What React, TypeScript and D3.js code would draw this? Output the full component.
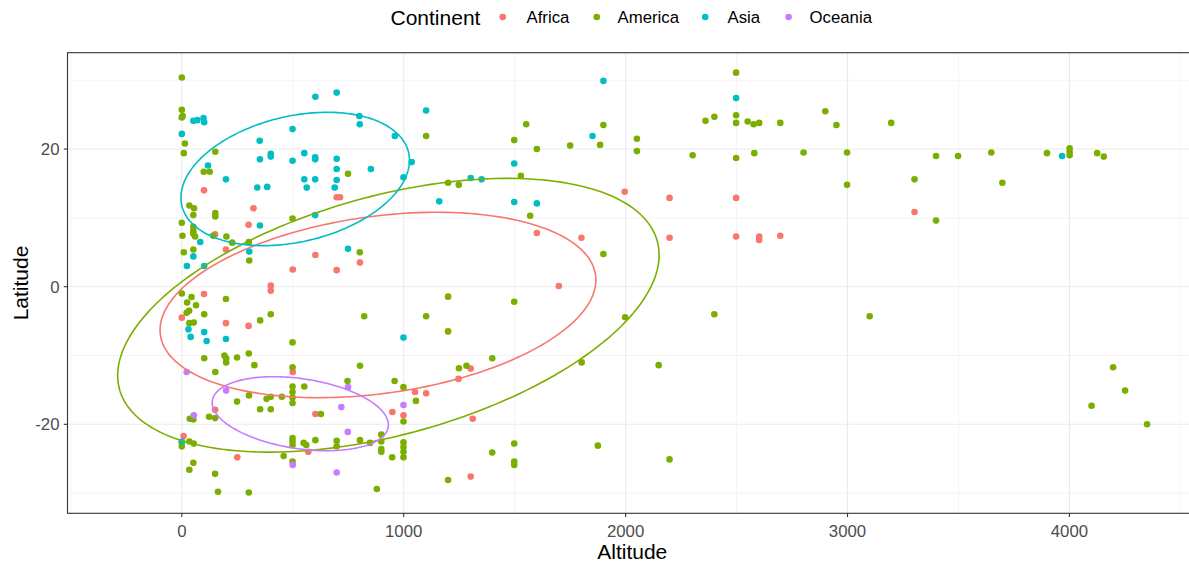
import React from "react";
import * as d3 from "d3";

type P = [number, number];

const continents = ["Africa", "America", "Asia", "Oceania"];
const colors = ["#F8766D", "#7CAE00", "#00BFC4", "#C77CFF"];

const africa: P[] = [
  [100, 14.0], [698, 13.0], [713, 13.0], [323, 11.4], [301, 9.0], [150, 7.6], [199, 5.4], [602, 4.6],
  [500, 2.5], [698, 2.4], [803, 3.5], [401, 0.15], [401, -0.6], [100, -1.06], [0, -4.5], [199, -5.3],
  [301, -5.7], [500, -12.4], [602, -18.5], [949, -18.2], [999, -18.7], [1051, -15.3], [1101, -15.5],
  [1247, -13.4], [150, -17.9], [8, -21.7], [250, -24.8], [570, -24.0], [1996, 13.8], [2198, 12.9],
  [2498, 12.9], [2198, 7.1], [2498, 7.3], [2602, 7.3], [2602, 6.8], [2697, 7.4], [1600, 7.8],
  [1801, 7.1], [1699, 0.1], [1302, -11.9], [1311, -19.2], [1302, -27.6], [3302, 10.85],
];

const america: P[] = [
  [0, 30.4], [0, 25.7], [0, 24.6], [4, 24.8], [14, 20.8], [9, 19.4], [151, 19.6], [99, 16.7], [126, 16.7],
  [749, 16.4], [1101, 21.9], [34, 11.8], [55, 11.4], [52, 10.4], [151, 10.7], [151, 10.2], [0, 9.3],
  [52, 8.7], [52, 8.1], [60, 7.3], [52, 7.7], [3, 7.4], [141, 7.4], [201, 7.3], [227, 6.4], [302, 6.5],
  [9, 5.0], [52, 5.4], [304, 3.8], [499, 9.9], [802, 5.0], [1200, 15.1], [1248, 14.8],
  [0, -1.0], [24, -2.3], [44, -1.5], [64, -2.7], [22, -3.8], [33, -3.5], [34, -5.3], [54, -5.2],
  [101, -4.0], [199, -1.8], [353, -4.9], [401, -4.0], [499, -8.1], [822, -4.3], [1101, -4.3],
  [1200, -1.45], [1200, -6.5], [101, -10.4], [151, -12.4], [192, -10.0], [200, -10.4], [200, -11.0],
  [249, -10.3], [302, -9.7], [327, -11.4], [499, -11.7], [499, -14.5], [499, -15.3], [499, -16.1],
  [499, -16.9], [552, -14.5], [451, -16.0], [401, -16.0], [382, -16.3], [303, -15.8], [249, -16.7],
  [353, -17.8], [401, -17.8], [747, -13.7], [803, -11.5], [959, -13.7], [999, -14.6], [1055, -16.6],
  [999, -19.6], [627, -18.5], [36, -19.2], [52, -19.3], [123, -18.9], [150, -19.1], [0, -22.6],
  [0, -23.2], [34, -22.5], [54, -22.8], [52, -25.6], [34, -26.6], [150, -27.2], [163, -29.8],
  [302, -29.9], [499, -22.0], [499, -22.5], [499, -23.0], [549, -22.7], [561, -23.0], [602, -22.3],
  [459, -24.6], [499, -25.4], [698, -22.4], [698, -23.2], [803, -22.3], [848, -22.7], [899, -21.5],
  [899, -22.5], [899, -23.6], [899, -24.0], [948, -24.8], [999, -22.6], [999, -23.3], [999, -24.0],
  [999, -24.8], [879, -29.4], [1200, -28.1],
  [2498, 31.1], [2498, 24.9], [2498, 23.8], [2550, 24.0], [2577, 23.6], [2602, 23.8], [2697, 23.8],
  [2900, 25.5], [2950, 23.5], [2360, 24.1], [2400, 24.7], [2498, 18.7], [2580, 19.4], [2302, 19.1],
  [2802, 19.5], [1498, 21.3], [1552, 23.6], [1600, 20.0], [1750, 20.5], [1900, 23.5], [1885, 20.6],
  [2051, 21.5], [2051, 19.7], [1528, 16.1], [1570, 10.3], [1900, 4.75],
  [1498, -2.2], [1998, -4.45], [2400, -4.0], [1399, -10.4], [1283, -11.5], [1802, -11.0],
  [2149, -11.4], [1498, -22.8], [1399, -24.1], [1498, -25.4], [1498, -25.9], [1875, -23.1],
  [2198, -25.1], [1249, -11.85],
  [3197, 23.8], [2998, 19.5], [2998, 14.8], [3302, 15.6], [3399, 19.0], [3498, 19.0], [3648, 19.5],
  [3698, 15.1], [3899, 19.4], [4001, 20.1], [4001, 19.6], [4001, 19.1], [4125, 19.4], [4155, 18.9],
  [3399, 9.6], [3100, -4.3], [4197, -11.7], [4251, -15.1], [4100, -17.3], [4350, -20.0],
];

const asia: P[] = [
  [602, 27.6], [698, 28.2], [800, 24.8], [802, 23.6], [1101, 25.6], [0, 22.2], [52, 24.1], [70, 24.2],
  [98, 24.5], [101, 23.9], [499, 22.9], [351, 21.2], [960, 21.9], [352, 18.5], [401, 19.3], [401, 18.9],
  [499, 18.3], [552, 19.4], [601, 18.8], [601, 18.5], [698, 18.6], [698, 17.1], [852, 17.1],
  [1036, 18.1], [999, 15.9], [118, 17.6], [199, 15.6], [340, 14.4], [385, 14.5], [552, 15.6],
  [563, 14.4], [601, 15.6], [698, 15.5], [689, 14.4], [1160, 12.4], [352, 8.9], [601, 10.4], [83, 6.5],
  [304, 5.1], [749, 5.5], [52, 4.4], [23, 3.0], [101, 3.0],
  [30, -6.2], [40, -7.3], [101, -6.6], [112, -7.9], [199, -7.6], [999, -7.4], [0, -22.5],
  [1900, 29.9], [2498, 27.4], [1851, 21.9], [1498, 17.9], [1302, 15.8], [1351, 15.6], [1498, 12.3],
  [1600, 12.1], [3967, 19.0],
];

const oceania: P[] = [
  [22, -12.4], [200, -15.1], [749, -14.6], [719, -17.5], [54, -18.7], [999, -17.2], [748, -21.1],
  [500, -25.9], [698, -27.0],
];

const seriesPoints = [africa, america, asia, oceania];

// stat_ellipse outlines: centre, half-ranges and correlation (data units)
const ellipseCx = [884, 931, 511, 534];
const ellipseCy = [-2.66, -4.15, 15.65, -18.46];
const ellipseRx = [982, 1220, 515, 397];
const ellipseRy = [13.47, 19.89, 9.69, 5.38];
const ellipseRho = [0.27, 0.44, 0.28, -0.3];

const xTicks = [0, 1000, 2000, 3000, 4000];
const xMinor = [-500, 500, 1500, 2500, 3500, 4500];
const yTicks = [-20, 0, 20];
const yMinor = [-30, -10, 10, 30];

const W = 1189;
const H = 563;
const PL = 67.5;
const PR = 1197;
const PT = 52.7;
const PB = 513.3;

const FONT = "'Liberation Sans', Arial, Helvetica, sans-serif";

export default function App() {
  const x = d3.scaleLinear().domain([-515.1, 4575]).range([PL, PR]);
  const y = d3.scaleLinear().domain([-32.93, 34.0]).range([PB, PT]);

  const line = d3
    .line<P>()
    .x((d) => x(d[0]))
    .y((d) => y(d[1]))
    .curve(d3.curveLinearClosed);

  const ellipses = continents.map((_, i) => {
    const pts: P[] = d3.range(0, 200).map((k) => {
      const t = (k / 200) * Math.PI * 2;
      const r = ellipseRho[i];
      return [
        ellipseCx[i] + ellipseRx[i] * Math.cos(t),
        ellipseCy[i] + ellipseRy[i] * (r * Math.cos(t) + Math.sqrt(1 - r * r) * Math.sin(t)),
      ];
    });
    return line(pts) || "";
  });

  const legendDotX = [502.7, 596.8, 705.2, 788.6];
  const legendTextX = [526.5, 617.5, 727.5, 809.5];

  return (
    <svg
      width={W}
      height={H}
      style={{ position: "absolute", left: 0, top: 0, background: "#fff" }}
      fontFamily={FONT}
    >
      <rect x={0} y={0} width={W} height={H} fill="#fff" />
      <defs>
        <clipPath id="panel">
          <rect x={PL} y={PT} width={PR - PL} height={PB - PT} />
        </clipPath>
      </defs>
      {/* grid */}
      <g stroke="#EBEBEB" fill="none">
        {xMinor.map((v) => (
          <line key={"xm" + v} x1={x(v)} x2={x(v)} y1={PT} y2={PB} strokeWidth={0.55} />
        ))}
        {yMinor.map((v) => (
          <line key={"ym" + v} x1={PL} x2={PR} y1={y(v)} y2={y(v)} strokeWidth={0.55} />
        ))}
        {xTicks.map((v) => (
          <line key={"xM" + v} x1={x(v)} x2={x(v)} y1={PT} y2={PB} strokeWidth={1.1} />
        ))}
        {yTicks.map((v) => (
          <line key={"yM" + v} x1={PL} x2={PR} y1={y(v)} y2={y(v)} strokeWidth={1.1} />
        ))}
      </g>
      {/* points */}
      <g clipPath="url(#panel)">
        {seriesPoints.map((pts, i) =>
          pts.map((d, j) => (
            <circle key={i + "-" + j} cx={x(d[0])} cy={y(d[1])} r={3.3} fill={colors[i]} />
          ))
        )}
        {ellipses.map((d, i) => (
          <path key={"e" + i} d={d} fill="none" stroke={colors[i]} strokeWidth={1.6} />
        ))}
      </g>
      {/* panel border */}
      <rect x={PL} y={PT} width={PR - PL} height={PB - PT} fill="none" stroke="#333333" strokeWidth={1.1} />
      {/* ticks */}
      <g stroke="#333333" strokeWidth={1.1}>
        {xTicks.map((v) => (
          <line key={"xt" + v} x1={x(v)} x2={x(v)} y1={PB} y2={PB + 3.7} />
        ))}
        {yTicks.map((v) => (
          <line key={"yt" + v} x1={PL - 3.7} x2={PL} y1={y(v)} y2={y(v)} />
        ))}
      </g>
      <g fill="#4D4D4D" fontSize={16.8}>
        {xTicks.map((v) => (
          <text key={"xl" + v} x={x(v)} y={536.5} textAnchor="middle">
            {v}
          </text>
        ))}
        {yTicks.map((v) => (
          <text key={"yl" + v} x={59.5} y={y(v) + 6} textAnchor="end">
            {v}
          </text>
        ))}
      </g>
      {/* axis titles */}
      <text x={(PL + PR) / 2} y={559} textAnchor="middle" fontSize={21} fill="#000">
        Altitude
      </text>
      <text
        transform={`translate(28.3, ${(PT + PB) / 2}) rotate(-90)`}
        textAnchor="middle"
        fontSize={21}
        fill="#000"
      >
        Latitude
      </text>
      {/* legend */}
      <text x={390.5} y={24.5} fontSize={21} fill="#000">
        Continent
      </text>
      {continents.map((c, i) => (
        <g key={"lg" + c}>
          <circle cx={legendDotX[i]} cy={17} r={3.3} fill={colors[i]} />
          <text x={legendTextX[i]} y={23} fontSize={16.8} fill="#000">
            {c}
          </text>
        </g>
      ))}
    </svg>
  );
}
